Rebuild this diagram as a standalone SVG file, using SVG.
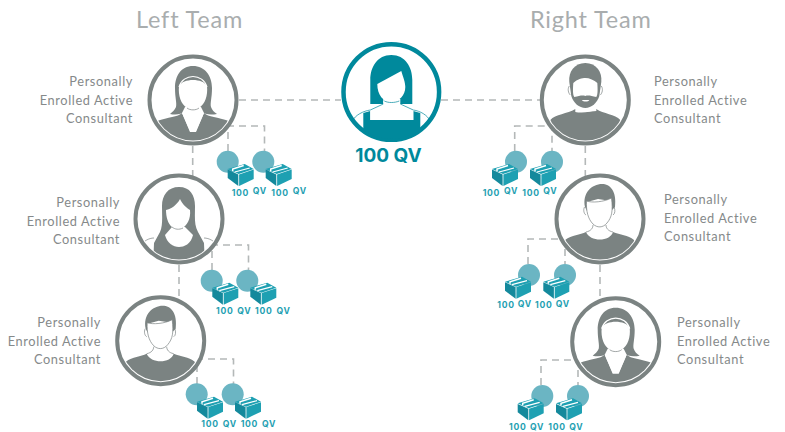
<svg xmlns="http://www.w3.org/2000/svg" width="785" height="432" viewBox="0 0 785 432">
<style>
.ring{fill:#fff;stroke:#7b8382;stroke-width:4}
.g{fill:#7b8382}
.w{fill:#fff}
.ol{fill:none;stroke:#7b8382;stroke-width:.7}
.t{fill:#00899c}
.tl{fill:none;stroke:#00899c;stroke-width:.7}
.conn{fill:none;stroke:#b4b8b8;stroke-width:1.6;stroke-dasharray:7 5}
.title{font:400 23.5px Lato,"Liberation Sans",sans-serif;fill:#a9adae;letter-spacing:.8px}
.lbl{font:400 12.8px Lato,"Liberation Sans",sans-serif;fill:#85898a;letter-spacing:.6px}
.r{text-anchor:end}
.qv{font:700 8.6px Inter,"Liberation Sans",sans-serif;fill:#1ea0b2;letter-spacing:.7px}
.main{font:700 19px Inter,"Liberation Sans",sans-serif;fill:#00899c;text-anchor:middle}
.dot{fill:#6bb5c3}
</style>
<defs>
<clipPath id="c40"><circle r="40.5"/></clipPath>
<clipPath id="c46"><circle r="47"/></clipPath>
<g id="box">
<polygon points="0,5 17,0 26,5 11,10" fill="#1ea0b2"/>
<polygon points="0,5.6 10.6,10.4 10.6,22 0,14" fill="#14899c"/>
<polygon points="11.4,10.4 26,5.6 26,15 11.4,22" fill="#1ea0b2"/>
<polyline points="5,7 5,5 16,1.5" fill="none" stroke="#fff" stroke-width="1.5"/>
<polyline points="7,8 22,4" fill="none" stroke="#fff" stroke-width="1.2"/>
</g>
<g id="woman">
<circle class="ring" r="43.5"/>
<path class="g" clip-path="url(#c40)" d="M-36,21C-25,17-15,17-11,13L-3,32H3L11,13C15,17 25,17 36,21L42,50H-42Z"/>
<path class="g" d="M0,-34C-12,-34-18,-24-18,-12C-18,-2-16,3-17,7C-18,10-21,12-23,14C-18,15-12,15-8,11H8C12,15 18,15 24,14C21,12 19,10 18,7C17,3 19,-2 19,-12C19,-24 12,-34 0,-34Z"/>
<path class="w" d="M-14,-14C-15,-4-12,4-6,8C-3,10.5 3,10.5 6,8C12,4 15,-4 14,-14C10,-22-10,-22-14,-14Z"/>
<path class="w" d="M-8,7H8L11,13L3,31H-3L-11,13Z"/>
<path class="ol" d="M-6,8C-3,10.5 3,10.5 6,8"/>
<path d="M-14,-13C-10,-27 10,-27 14,-13" fill="none" stroke="#fff" stroke-width="1.2"/>
</g>
<g id="woman2">
<circle class="ring" r="43.5"/>
<path class="g" clip-path="url(#c40)" d="M0,-32C-11,-32-17,-24-17,-13C-17,-2-16,6-19,13L-25,24L-26,50H26L25,24L19,13C15,6 16,-2 16,-13C16,-24 11,-32 0,-32Z"/>
<path class="w" d="M-13,-9C-8,-10-2,-14 1,-20C3,-15 8,-11 11,-9C12,0 8,7 2,10C-1,11-4,10-7,8C-11,5-13,-2-13,-9Z"/>
<path class="w" d="M-7,8H6L14,16C12,25 5,28 0,28C-6,28-12,24-14,16Z"/>
<path class="ol" d="M-7,8C-4,10.5 0,11 4,9"/>
<path class="ol" clip-path="url(#c40)" d="M-25,19C-30,19-36,22-39,28M25,19C30,19 36,22 39,28"/>
</g>
<g id="man">
<circle class="ring" r="43.5"/>
<path class="g" clip-path="url(#c40)" d="M-35,21C-28,16-20,16-14,13C-10,23 10,23 13,13C20,16 28,16 34,21L42,50H-42Z"/>
<path class="g" d="M-15,-12C-18,-26-8,-35 2,-35C10,-35 17,-28 15,-12L11,-8V-18L-2,-20L-13,-17V-8Z"/>
<path class="w" stroke="#7b8382" stroke-width=".7" d="M-13.5,-18C-8,-16 4,-17 11.5,-21C13,-8 12,-2 7,4C3,9-3,9-7,5C-12,0-14,-8-13.5,-18Z"/>
<path class="ol" d="M-15.5,-12C-17,-9-16,-5-14,-4M14,-12C15.5,-9 15,-5 13,-4M-7,6C-7,9-9,12-14,13M6,6C6,9 8,12 13,13"/>
</g>
<g id="beard">
<circle class="ring" r="43.5"/>
<path class="g" clip-path="url(#c40)" d="M-35,20C-30,14-18,14-10,9V12C-5,13 5,13 11,9C18,14 30,14 35,20L42,50H-42Z"/>
<path class="w" d="M-10,6L-9,11C-4,12 4,12 11,11L11,6Z"/>
<path class="g" d="M0,-37C-11,-37-17,-28-16,-18L-14,-4C-12,3-6,8 0,8C6,8 12,3 14,-4L16,-18C17,-28 11,-37 0,-37Z"/>
<path class="w" d="M-12,-17C-8,-21-3,-22 0,-22C4,-22 9,-20 12,-17C12.5,-10 12.5,-5 11,-3C6,-4 3,-5 0,-4C-3,-5-6,-4-11,-3C-12.5,-5-12.5,-10-12,-17Z"/>
<path class="w" d="M-3.5,0H4C3,2-2,2-3.5,0Z"/>
<path class="ol" d="M-16,-14C-18,-11-17,-7-15,-5M16,-14C18,-11 17,-7 15,-5"/>
</g>
<g id="lead">
<circle fill="#fff" stroke="#00899c" stroke-width="4.5" r="47.8"/>
<path class="t" clip-path="url(#c46)" d="M-28,21L-21,19V28H22V19L29,21V50H-28Z"/>
<path class="t" d="M0,-37C-14,-37-21,-25-21,-12V12H-8V9H8V12H21V-12C21,-25 14,-37 0,-37Z"/>
<path class="w" d="M-14,-8L10,-21C12,-14 14,-10 14,-5C14,3 8,10 0,10C-8,10-14,3-14,-8Z"/>
<path class="w" d="M-8,7H9V13L22,19V28H-21V19L-8,13Z"/>
<path class="tl" d="M-7,9C-3,11 3,11 8,9M-8,12L-21,18C-28,19-36,23-39,29M9,12L22,18C29,19 36,23 39,29"/>
</g>
</defs>
<g id="connectors">
<path class="conn" d="M239,100H341M441,100H540"/>
<path class="conn" d="M192.7,146V176M179,265V297M585.3,146V178M600,265V299"/>
<path class="conn" d="M228,151V126H264.500V151"/>
<path class="conn" d="M212,270V245H248.500V270"/>
<path class="conn" d="M197,384V359H233.500V384"/>
<path class="conn" d="M514.7,151V126H552V151"/>
<path class="conn" d="M528,264V239H565V264"/>
<path class="conn" d="M541,385V360H578V385"/>
</g>
<g id="titles">
<text class="title" x="136" y="28">Left Team</text>
<text class="title" x="530" y="28">Right Team</text>
</g>
<g id="center-node">
<use href="#lead" x="391.3" y="92"/>
<text class="main" x="388.5" y="162">100 QV</text>
</g>
<g id="left-1">
<use href="#woman" x="193" y="100"/>
<text class="lbl r" x="133" y="86">Personally</text><text class="lbl r" x="133" y="105">Enrolled Active</text><text class="lbl r" x="133" y="123">Consultant</text>
</g>
<g id="left-2">
<use href="#woman2" x="179" y="219"/>
<text class="lbl r" x="120" y="207">Personally</text><text class="lbl r" x="120" y="226">Enrolled Active</text><text class="lbl r" x="120" y="244">Consultant</text>
</g>
<g id="left-3">
<use href="#man" x="160.7" y="340.7"/>
<text class="lbl r" x="101" y="327">Personally</text><text class="lbl r" x="101" y="346">Enrolled Active</text><text class="lbl r" x="101" y="364">Consultant</text>
</g>
<g id="right-1">
<use href="#beard" x="585.3" y="100"/>
<text class="lbl" x="654" y="86">Personally</text><text class="lbl" x="654" y="105">Enrolled Active</text><text class="lbl" x="654" y="123">Consultant</text>
</g>
<g id="right-2">
<use href="#man" x="600" y="219"/>
<text class="lbl" x="664" y="204">Personally</text><text class="lbl" x="664" y="223">Enrolled Active</text><text class="lbl" x="664" y="241">Consultant</text>
</g>
<g id="right-3">
<use href="#woman" x="615.7" y="341.7"/>
<text class="lbl" x="677" y="327">Personally</text><text class="lbl" x="677" y="346">Enrolled Active</text><text class="lbl" x="677" y="364">Consultant</text>
</g>
<g id="volume-left-1">
<circle class="dot" cx="227.7" cy="161.7" r="11"/><circle class="dot" cx="263.3" cy="161.7" r="11"/>
<use href="#box" x="227.7" y="164"/><use href="#box" x="265.7" y="164"/>
<text class="qv" x="231.7" y="195.7">100</text><text class="qv" x="252.7" y="194">QV</text><text class="qv" x="271.3" y="195.7">100</text><text class="qv" x="292.7" y="194">QV</text>
</g>
<g id="volume-left-2">
<circle class="dot" cx="211.7" cy="280.7" r="11"/><circle class="dot" cx="247.3" cy="280.7" r="11"/>
<use href="#box" x="212.3" y="282.7"/><use href="#box" x="250.3" y="282.7"/>
<text class="qv" x="216" y="314">100</text><text class="qv" x="237.3" y="314">QV</text><text class="qv" x="255" y="314">100</text><text class="qv" x="276.5" y="314">QV</text>
</g>
<g id="volume-left-3">
<circle class="dot" cx="196.7" cy="394.3" r="11"/><circle class="dot" cx="232.7" cy="394.3" r="11"/>
<use href="#box" x="197" y="396.7"/><use href="#box" x="235" y="396.7"/>
<text class="qv" x="201.3" y="427.3">100</text><text class="qv" x="222.7" y="427.3">QV</text><text class="qv" x="240.7" y="427.3">100</text><text class="qv" x="262" y="427.3">QV</text>
</g>
<g id="volume-right-1">
<circle class="dot" cx="516" cy="161.7" r="11"/><circle class="dot" cx="552" cy="161.7" r="11"/>
<use href="#box" x="492" y="164"/><use href="#box" x="530" y="164"/>
<text class="qv" x="482.7" y="195.7">100</text><text class="qv" x="504" y="194">QV</text><text class="qv" x="522.3" y="195.7">100</text><text class="qv" x="543.3" y="194">QV</text>
</g>
<g id="volume-right-2">
<circle class="dot" cx="529" cy="275" r="11"/><circle class="dot" cx="565" cy="275" r="11"/>
<use href="#box" x="505" y="276.7"/><use href="#box" x="543.3" y="276.7"/>
<text class="qv" x="497.3" y="308.3">100</text><text class="qv" x="517.7" y="306.7">QV</text><text class="qv" x="535" y="308.3">100</text><text class="qv" x="555.7" y="306.7">QV</text>
</g>
<g id="volume-right-3">
<circle class="dot" cx="542.3" cy="396" r="11"/><circle class="dot" cx="578" cy="396" r="11"/>
<use href="#box" x="517.7" y="398.3"/><use href="#box" x="556" y="398.3"/>
<text class="qv" x="509" y="430.3">100</text><text class="qv" x="530" y="430.3">QV</text><text class="qv" x="548.3" y="430.3">100</text><text class="qv" x="569.3" y="430.3">QV</text>
</g>
</svg>
